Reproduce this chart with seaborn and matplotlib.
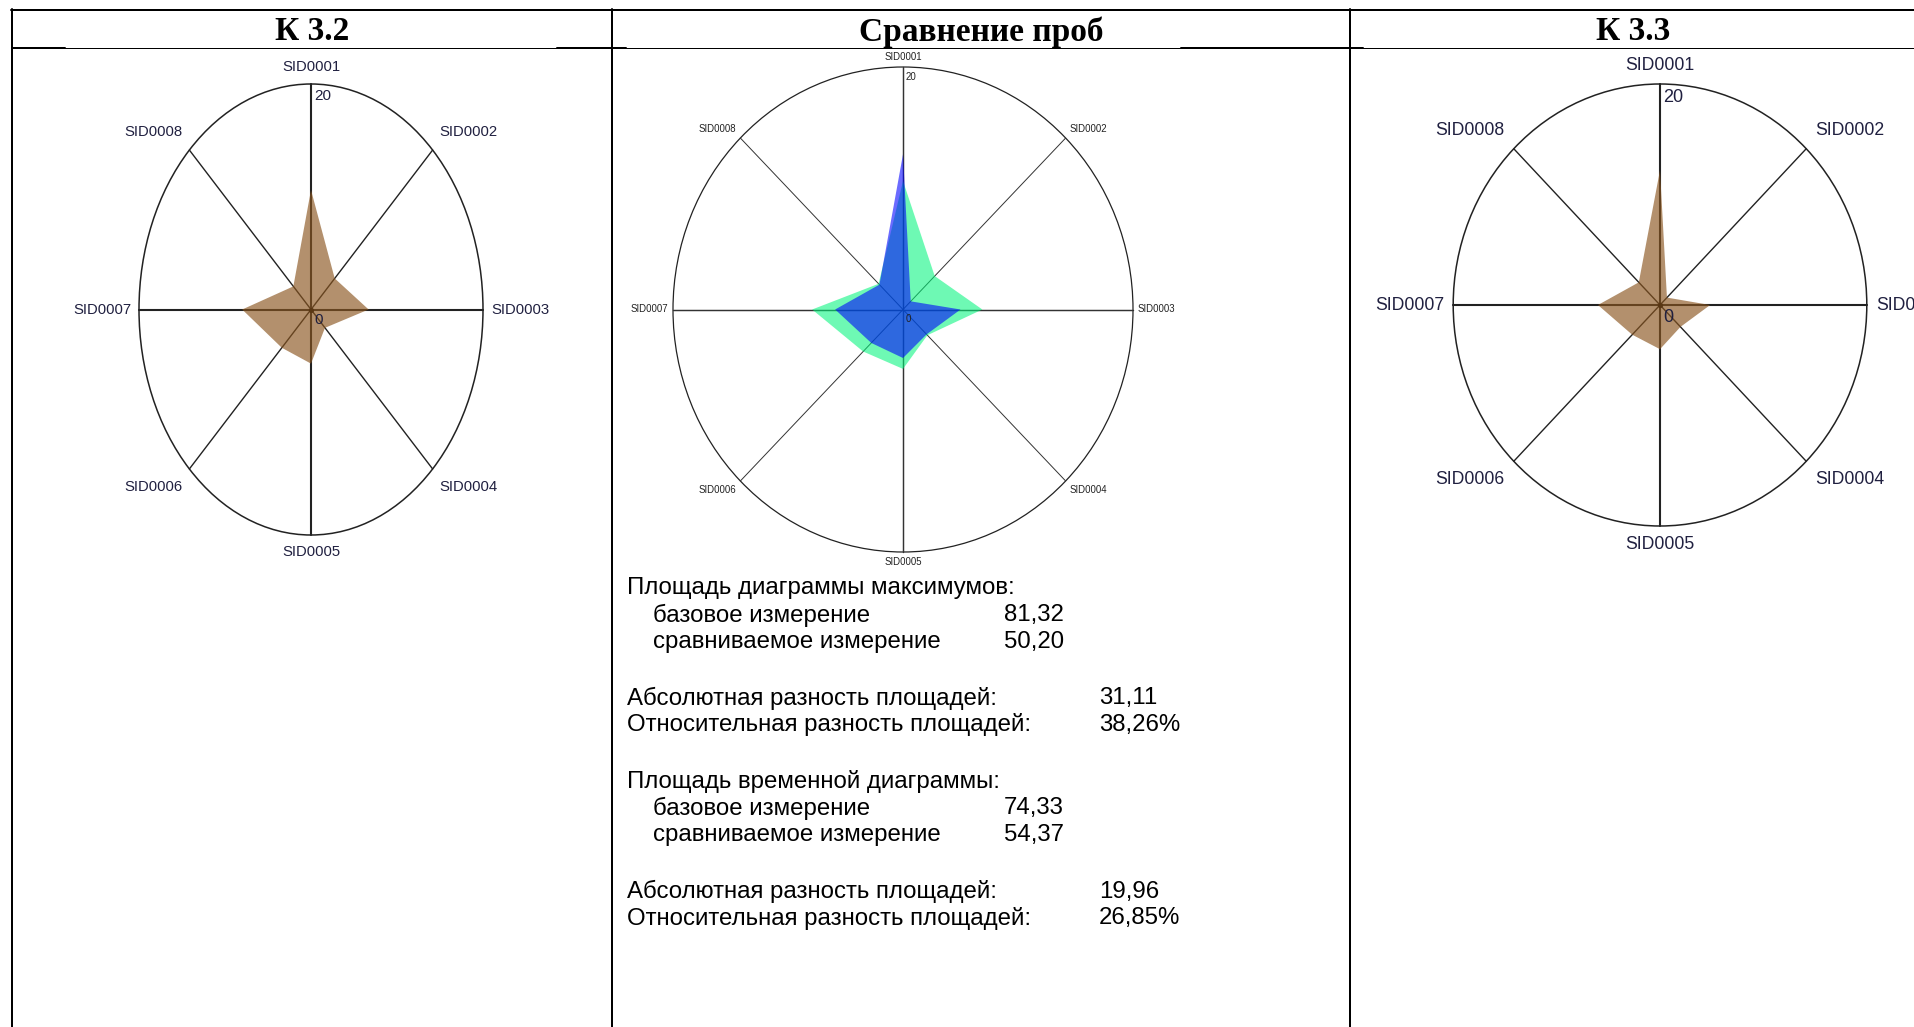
# radar charts of the samples K 3.2 / K 3.3 and their comparison
import numpy as np
import matplotlib
matplotlib.use("Agg")
import matplotlib.pyplot as plt
from matplotlib.patches import Ellipse
import seaborn as sns

sns.set_theme(style="white")
plt.rcParams['font.family'] = ['Liberation Sans', 'DejaVu Sans']

# ---- data ----
sids = ['SID0001', 'SID0002', 'SID0003', 'SID0004',
        'SID0005', 'SID0006', 'SID0007', 'SID0008']
k32 = [10.6, 3.9, 6.7, 2.3, 4.8, 4.8, 8.0, 2.9]      # K 3.2 chart
k33 = [12.2, 0.95, 4.85, 2.8, 4.0, 3.8, 6.0, 2.9]    # K 3.3 chart
cmp_base = [10.6, 3.9, 6.9, 3.0, 4.9, 4.9, 7.9, 3.0]  # comparison, green
cmp_test = [12.8, 0.95, 5.0, 2.9, 4.0, 3.9, 5.9, 2.9]  # comparison, blue
r_max = 20
titles = ['К 3.2', 'Сравнение проб', 'К 3.3']

stat_labels = ['Площадь диаграммы максимумов:', 'базовое измерение', 'сравниваемое измерение',
               'Абсолютная разность площадей:', 'Относительная разность площадей:',
               'Площадь временной диаграммы:', 'базовое измерение', 'сравниваемое измерение',
               'Абсолютная разность площадей:', 'Относительная разность площадей:']
stat_values = ['', '81,32', '50,20', '31,11', '38,26%', '', '74,33', '54,37', '19,96', '26,85%']
stat_indent = [0, 1, 1, 0, 0, 0, 1, 1, 0, 0]

W, H = 1914, 1027
fig = plt.figure(figsize=(W / 100, H / 100), dpi=100)

# page / table layer in pixel coordinates
bg = fig.add_axes([0, 0, 1, 1])
bg.set_xlim(0, W)
bg.set_ylim(H, 0)
bg.axis('off')

px = 0.72  # one pixel in points
bg.plot([11, W], [10, 10], color='black', lw=2 * px)
for x in [12, 612, 1350]:
    bg.plot([x, x], [9, H], color='black', lw=2 * px)
bg.plot([12, W], [47.7, 47.7], color='black', lw=1 * px)
for x0, x1 in [(12, 65), (557, 626), (1181, 1363)]:
    bg.plot([x0, x1], [47.7, 47.7], color='black', lw=2 * px)

for t, xc in zip(titles, [312, 981, 1633]):
    bg.text(xc, 32, t, ha='center', va='center', fontsize=24, fontweight='bold',
            family=['Liberation Serif', 'DejaVu Serif'], color='black')

# text block under the comparison chart
row_y = [588.3, 615, 641.7, 698.3, 725, 781.7, 808.3, 835, 891.7, 918.3]
for lab, val, ind, y in zip(stat_labels, stat_values, stat_indent, row_y):
    bg.text(653 if ind else 627, y, lab, ha='left', va='center', fontsize=17.3, color='black')
    if val:
        bg.text(1004 if ind else 1099, y, val, ha='left', va='center', fontsize=17.3, color='black')


def radar(cx, cy, rx, ry, series, colors, alphas, lab_fs, num_fs, offs,
          spoke_lw, spoke_c, lab_c, ring_lw, dot=True):
    ax = fig.add_axes([(cx - rx) / W, (H - cy - ry) / H, 2 * rx / W, 2 * ry / H])
    ax.set_xlim(-r_max, r_max)
    ax.set_ylim(-r_max, r_max)
    ax.axis('off')
    ang = np.deg2rad(np.arange(len(sids)) * 45)
    ax.add_patch(Ellipse((0, 0), 2 * r_max, 2 * r_max, fill=False, ec='#222222',
                         lw=ring_lw, clip_on=False, zorder=1))
    for i, a in enumerate(ang):
        lw = spoke_lw * 1.5 if i % 2 == 0 else spoke_lw
        ax.plot([0, r_max * np.sin(a)], [0, r_max * np.cos(a)], color=spoke_c,
                lw=lw, clip_on=False, zorder=1)
    if dot:
        sns.scatterplot(x=[0], y=[0], color='black', s=14, ax=ax, zorder=1.5, linewidth=0)
    for vals, c, al in zip(series, colors, alphas):
        v = np.array(vals)
        ax.fill(v * np.sin(ang), v * np.cos(ang), color=c, alpha=al, lw=0, zorder=2)

    d_top, d_dx, d_dy, d_side = offs
    place = [('center', 'bottom', 0, d_top), ('left', 'bottom', d_dx, d_dy),
             ('left', 'center', d_side, 0), ('left', 'top', d_dx, -d_dy),
             ('center', 'top', 0, -d_top), ('right', 'top', -d_dx, -d_dy),
             ('right', 'center', -d_side, 0), ('right', 'bottom', -d_dx, d_dy)]
    for a, name, (ha, va, ox, oy) in zip(ang, sids, place):
        ax.annotate(name, (r_max * np.sin(a), r_max * np.cos(a)), xytext=(ox, oy),
                    textcoords='offset pixels', ha=ha, va=va, fontsize=lab_fs,
                    color=lab_c, annotation_clip=False)
    ax.annotate(str(r_max), (0, r_max), xytext=(3, -5), textcoords='offset pixels',
                ha='left', va='top', fontsize=num_fs, color=lab_c)
    ax.annotate('0', (0, 0), xytext=(3, -4), textcoords='offset pixels',
                ha='left', va='top', fontsize=num_fs, color=lab_c)
    return ax


brown = '#8A551F'
radar(311, 309.5, 172, 225.5, [k32], [brown], [0.65], 10.7, 11, (10, 7, 11, 8),
      1.0, '#222222', '#202040', 1.1)
radar(903, 309.5, 230, 242.5, [cmp_base, cmp_test], ['#00F67B', '#0000FF'], [0.57, 0.58],
      6.9, 7, (5, 4, 4, 5), 0.7, '#333333', '#222222', 0.9, dot=False)
radar(1660, 305, 206.8, 221, [k33], [brown], [0.65], 12.7, 13, (10, 9, 10, 9),
      1.0, '#222222', '#202040', 1.1)

fig.savefig('out.png', dpi=100)
